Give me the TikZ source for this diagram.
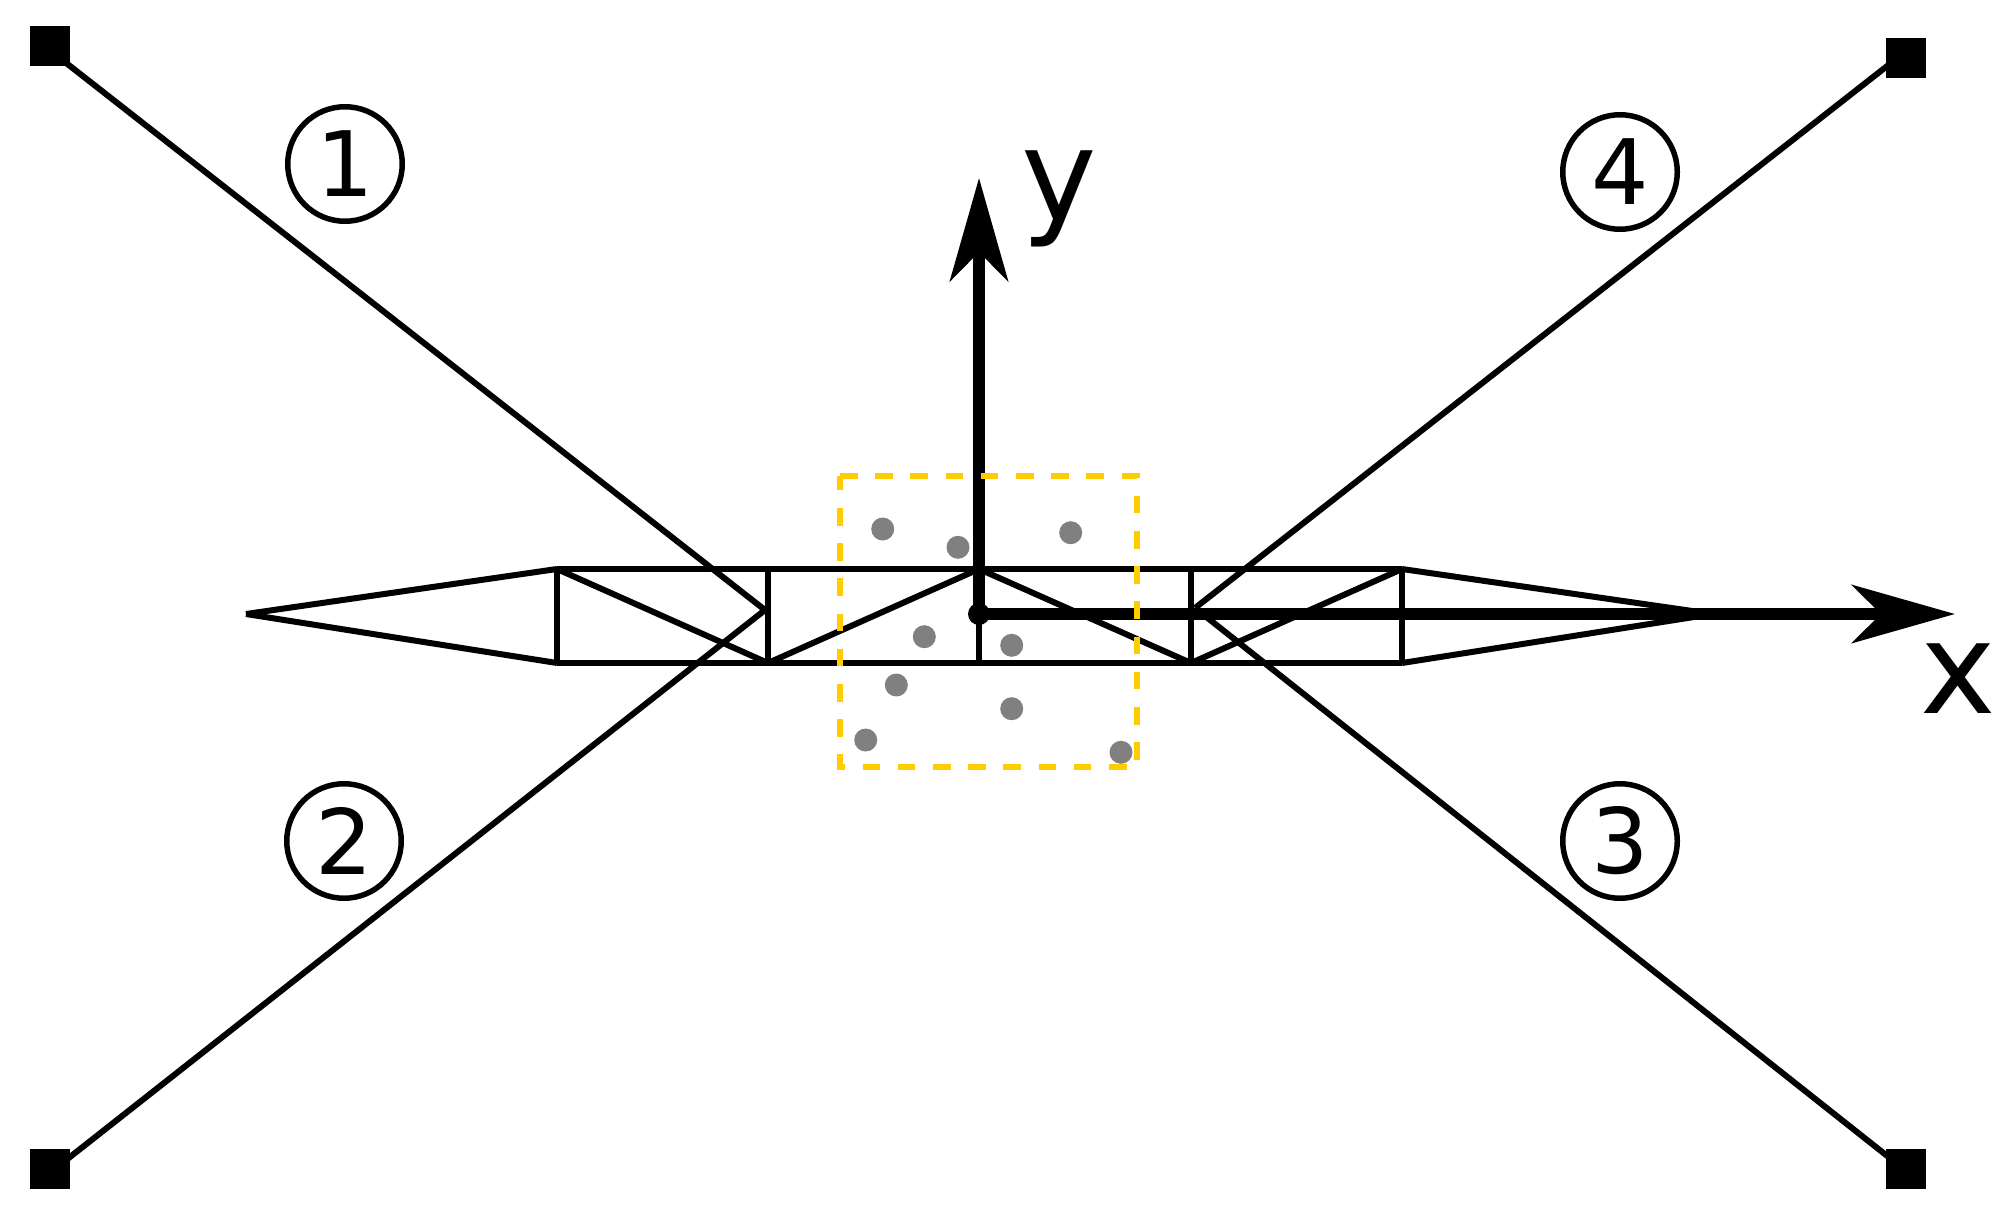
\documentclass[tikz,border=0pt]{standalone}
\usepackage{fontspec}
\setmainfont{DejaVu Sans}
\usetikzlibrary{arrows.meta}
\definecolor{boxyellow}{HTML}{FFCC00}
\definecolor{dotgray}{HTML}{808080}
\tikzset{
  winch/.style={fill=black,rectangle,minimum size=4mm,inner sep=0pt,outer sep=0pt},
  cable/.style={shorten <=-1mm},
  numcircle/.style={draw=black,circle,line width=0.55mm,minimum size=11.45mm,inner sep=0pt,outer sep=0pt,font=\fontsize{25.7}{30}\selectfont},
  axislabel/.style={anchor=base,inner sep=0pt,font=\fontsize{36.3}{40}\selectfont},
  axisline/.style={line width=1.2mm,-{Stealth[length=10.3mm,width=5.8mm,inset=2.9mm]}},
}
\begin{document}
\begin{tikzpicture}[x=0.1mm,y=-0.1mm]
  \useasboundingbox (0,0) rectangle (2013,1220);
  % truss joints
  \coordinate (tl) at (246,614);
  \coordinate (tr) at (1713,614);
  \coordinate (a1) at (557,569);
  \coordinate (a2) at (768,569);
  \coordinate (a3) at (979,569);
  \coordinate (a4) at (1191,569);
  \coordinate (a5) at (1402,569);
  \coordinate (b1) at (557,663);
  \coordinate (b2) at (768,663);
  \coordinate (b3) at (979,663);
  \coordinate (b4) at (1191,663);
  \coordinate (b5) at (1402,663);
  \coordinate (attl) at (765,610);
  \coordinate (attr) at (1195,608);
  \coordinate (xtip) at (1955,614);
  \coordinate (ytip) at (979,178);
  % corner winches
  \node[winch] (w1) at (50,46) {};
  \node[winch] (w2) at (50,1169) {};
  \node[winch] (w3) at (1906,1169) {};
  \node[winch] (w4) at (1906,58) {};
  \begin{scope}[every edge/.style={draw=black,line width=0.6mm}]
  \path (tl) edge (a1);
  \path (tl) edge (b1);
  \path (a5) edge (tr);
  \path (b5) edge (tr);
  \path (a1) edge (a5);
  \path (b1) edge (b5);
  \path (a1) edge (b1);
  \path (a2) edge (b2);
  \path (a3) edge (b3);
  \path (a4) edge (b4);
  \path (a5) edge (b5);
  \path (a1) edge (b2);
  \path (b2) edge (a3);
  \path (a3) edge (b4);
  \path (b4) edge (a5);
  \path (w1.south east) edge[cable] (attl);
  \path (w2.31) edge[cable] (attl);
  \path (w3.145) edge[cable] (attr);
  \path (w4.204) edge[cable] (attr);
  \end{scope}
  % axes
  \node[fill=black,circle,minimum size=2.2mm,inner sep=0pt,outer sep=0pt] (orig) at (979,614) {};
  \draw[axisline] (orig.center) -- (xtip);
  \draw[axisline] (orig.center) -- (ytip);
  \node[axislabel] (xlab) at (1958.5,713) {x};
  \node[axislabel] (ylab) at (1059.5,220.5) {y};
  % numbered cables
  \node[numcircle] (n1) at (345,164) {1};
  \node[numcircle] (n2) at (344,841) {2};
  \node[numcircle] (n3) at (1620,841) {3};
  \node[numcircle] (n4) at (1620,172) {4};
  % workspace
  \draw[boxyellow,line width=0.6mm,dash pattern=on 1.76mm off 1.76mm] (840,476) -- (1137,476) -- (1137,767) -- (840,767) -- cycle;
  \begin{scope}[every node/.style={fill=dotgray,circle,minimum size=2.3mm,inner sep=0pt,outer sep=0pt}]
  \node (p1) at (882.7,529) {};
  \node (p2) at (958,547.3) {};
  \node (p3) at (1070.7,532.7) {};
  \node (p4) at (924.3,636.7) {};
  \node (p5) at (1011.7,645.3) {};
  \node (p6) at (896.3,685) {};
  \node (p7) at (1011.7,708.7) {};
  \node (p8) at (865.7,740) {};
  \node (p9) at (1121,752.3) {};
  \end{scope}
\end{tikzpicture}
\end{document}
